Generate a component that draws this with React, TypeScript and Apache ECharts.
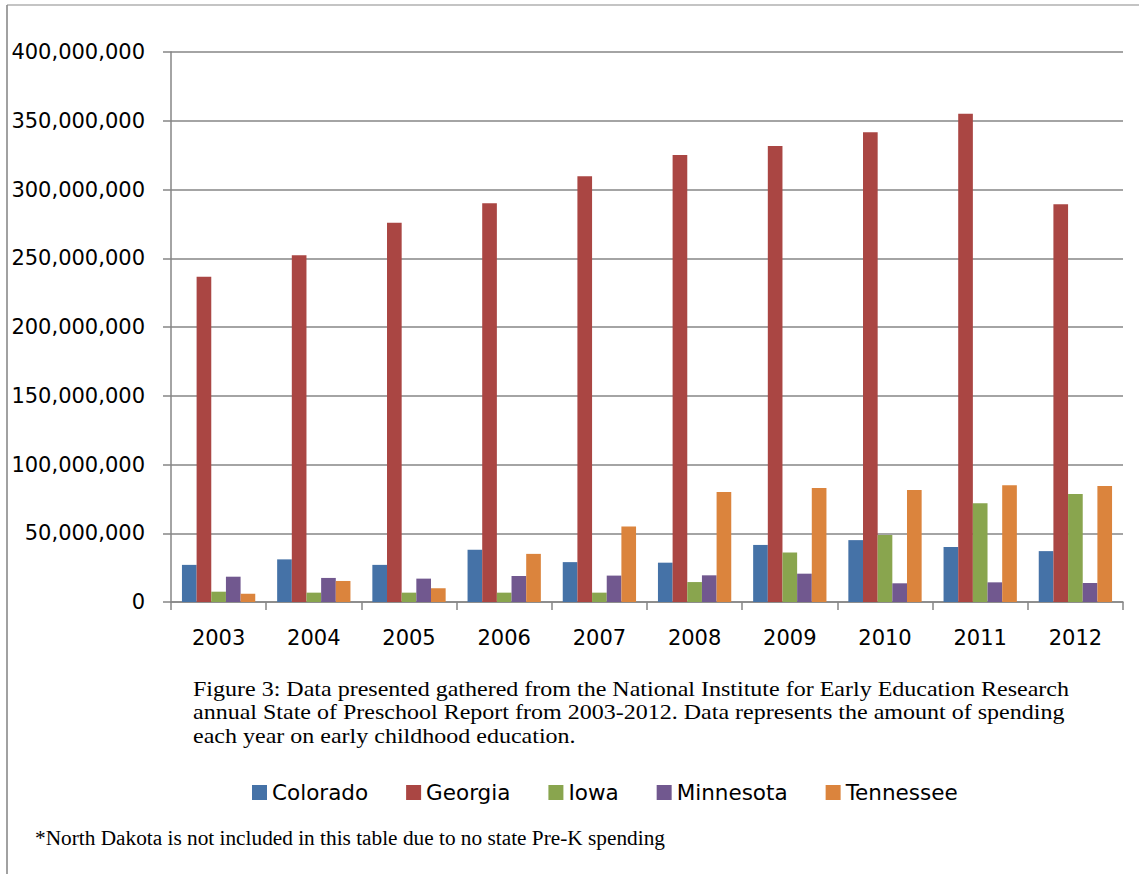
import React, { useEffect, useRef } from "react";
import * as echarts from "echarts";

const years = ["2003", "2004", "2005", "2006", "2007", "2008", "2009", "2010", "2011", "2012"];
const colorado = [27000000, 31000000, 27000000, 38000000, 29000000, 28600000, 41500000, 45000000, 40000000, 37000000];
const georgia = [236600000, 252100000, 275900000, 290000000, 309600000, 325100000, 331600000, 341600000, 355100000, 289200000];
const iowa = [7500000, 6800000, 6800000, 6800000, 6800000, 14500000, 36000000, 48700000, 71800000, 78500000];
const minnesota = [18400000, 17500000, 17000000, 19000000, 19200000, 19400000, 20600000, 13600000, 14300000, 13800000];
const tennessee = [6000000, 15300000, 10000000, 35000000, 55000000, 80000000, 83000000, 81500000, 85000000, 84400000];

const seriesNames = ["Colorado", "Georgia", "Iowa", "Minnesota", "Tennessee"];
const seriesData = [colorado, georgia, iowa, minnesota, tennessee];
const colors = ["#4572A7", "#AA4643", "#89A54E", "#71588F", "#DB843D"];

const captionLines = [
  "Figure 3: Data presented gathered from the National Institute for Early Education Research",
  "annual State of Preschool Report from 2003-2012. Data represents the amount of spending",
  "each year on early childhood education.",
];
const footnote = "*North Dakota is not included in this table due to no state Pre-K spending";

const axisColor = "#868686";
const sansFont = "DejaVu Sans";
const serifFont = "Liberation Serif";

export default function App() {
  const ref = useRef<HTMLDivElement>(null);
  useEffect(() => {
    if (!ref.current) return;
    const chart = echarts.init(ref.current, undefined, { renderer: "svg" });
    chart.setOption({
      animation: false,
      backgroundColor: "#ffffff",
      color: colors,
      grid: { left: 171, right: 16, top: 52, bottom: 272, containLabel: false },
      legend: {
        left: 247,
        top: 775,
        itemWidth: 15,
        itemHeight: 15,
        itemGap: 38,
        icon: "rect",
        textStyle: { fontFamily: sansFont, fontSize: 21.5, color: "#000", lineHeight: 25 },
        data: seriesNames,
      },
      xAxis: {
        type: "category",
        data: years,
        axisLine: { lineStyle: { color: axisColor, width: 1.5 } },
        axisTick: { show: true, length: 8, lineStyle: { color: axisColor, width: 1.5 } },
        axisLabel: { fontFamily: sansFont, fontSize: 21, color: "#000", margin: 25 },
      },
      yAxis: {
        type: "value",
        min: 0,
        max: 400000000,
        interval: 50000000,
        axisLine: { show: true, lineStyle: { color: axisColor, width: 1.5 } },
        axisTick: { show: true, length: 8, lineStyle: { color: axisColor, width: 1.5 } },
        splitLine: { show: true, lineStyle: { color: axisColor, width: 1.5 } },
        axisLabel: {
          fontFamily: sansFont,
          fontSize: 21,
          color: "#000",
          margin: 26,
          formatter: (v: number) => v.toLocaleString("en-US"),
        },
      },
      series: seriesNames.map((name, i) => ({
        name,
        type: "bar",
        data: seriesData[i],
        barGap: "0%",
        barCategoryGap: "23%",
        itemStyle: { color: colors[i] },
      })),
      graphic: [
        {
          type: "line",
          shape: { x1: 7, y1: 5, x2: 1139, y2: 5 },
          style: { stroke: "#8a8a8a", lineWidth: 1.2 },
          silent: true,
        },
        {
          type: "line",
          shape: { x1: 7, y1: 5, x2: 7, y2: 874 },
          style: { stroke: "#8a8a8a", lineWidth: 1.6 },
          silent: true,
        },
        {
          type: "text",
          x: 193,
          y: 677,
          scaleX: 1.144,
          style: {
            text: captionLines.join("\n"),
            fontFamily: serifFont,
            fontSize: 21,
            lineHeight: 23.5,
            fill: "#000",
            verticalAlign: "top",
          },
          silent: true,
        },
        {
          type: "text",
          x: 35,
          y: 826,
          style: {
            text: footnote,
            fontFamily: serifFont,
            fontSize: 21.3,
            lineHeight: 23,
            fill: "#000",
            verticalAlign: "top",
          },
          silent: true,
        },
      ],
    });
    return () => chart.dispose();
  }, []);
  return (
    <div
      ref={ref}
      style={{ position: "absolute", left: 0, top: 0, width: 1139, height: 874 }}
    />
  );
}
